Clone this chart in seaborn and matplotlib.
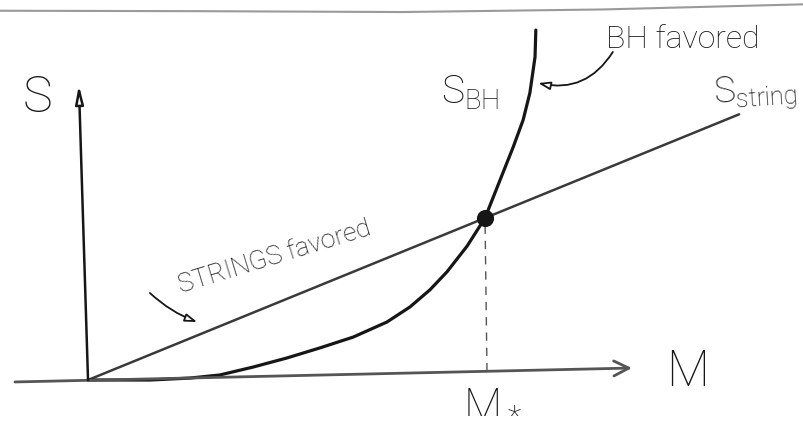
import numpy as np
import pandas as pd
import matplotlib
matplotlib.use("Agg")
import matplotlib.pyplot as plt
import seaborn as sns

# Entropy vs mass: black hole entropy S_BH against string entropy S_string
# (M in units of the crossing mass M_*, S in units of the entropy at M_*)
bh_mass = [0.0, 0.156, 0.257, 0.332, 0.416, 0.501, 0.584, 0.668, 0.753, 0.811,
           0.861, 0.904, 0.955, 1.0, 1.038, 1.071, 1.096, 1.113, 1.126, 1.128]
bh_entropy = [0.0, 0.0, 0.012, 0.031, 0.080, 0.136, 0.198, 0.265, 0.358, 0.451,
              0.556, 0.667, 0.827, 1.0, 1.235, 1.438, 1.605, 1.772, 1.994, 2.160]

string_mass = [0.0, 1.0, 1.64]
string_entropy = [0.0, 1.0, 1.64]

m_star = 1.0
s_star = 1.0

axis_label_s = "S"
axis_label_m = "M"
label_mstar = r"$\mathregular{M_*}$"
label_sbh = r"$\mathregular{S_{BH}}$"
label_sstring = r"$\mathregular{S_{string}}$"
note_bh = "BH favored"
note_strings = "STRINGS favored"

sns.set_theme(style="white")
plt.rcParams["font.family"] = ["Roboto", "DejaVu Sans"]
plt.rcParams["font.weight"] = "light"
plt.rcParams["mathtext.fontset"] = "custom"
plt.rcParams["mathtext.rm"] = "Roboto:light"

fig = plt.figure(figsize=(8.04, 4.30), dpi=100)
ax = fig.add_axes([0, 0, 1, 1])
ax.set_xlim(-0.2217, 1.8035)
ax.set_ylim(-0.3086, 2.3457)
ax.axis("off")

ink = "#161616"

# axes drawn as hand-style arrows
ax.annotate("", xy=(1.37, 0.074), xytext=(-0.184, -0.012),
            arrowprops=dict(arrowstyle="->,head_length=0.9,head_width=0.45",
                            color="#555555", lw=2.0, shrinkA=0, shrinkB=0))
ax.annotate("", xy=(-0.023, 1.82), xytext=(0.0, 0.0),
            arrowprops=dict(arrowstyle="-|>,head_length=0.9,head_width=0.2",
                            fc="white", ec=ink, lw=1.8, shrinkA=0, shrinkB=0))

df_bh = pd.DataFrame({"M": bh_mass, "S": bh_entropy})
df_str = pd.DataFrame({"M": string_mass, "S": string_entropy})

sns.lineplot(data=df_str, x="M", y="S", sort=False, estimator=None,
             color="#3a3a3a", lw=1.8, ax=ax)
sns.lineplot(data=df_bh, x="M", y="S", sort=False, estimator=None,
             color=ink, lw=2.3, ax=ax)

# dashed drop line from the crossing to the M axis
axis_y_at_mstar = -0.012 + (0.074 + 0.012) * (m_star + 0.184) / (1.37 + 0.184)
ax.plot([m_star + 0.005, m_star], [axis_y_at_mstar, s_star],
        ls=(0, (6, 5)), color="#555555", lw=1.0)

sns.scatterplot(x=[m_star], y=[s_star], s=130, color=ink, ax=ax, zorder=5,
                edgecolor=ink)

# labels
ax.text(-0.128, 1.741, axis_label_s, fontsize=36, ha="center", va="center", color=ink)
ax.text(1.509, 0.049, axis_label_m, fontsize=36, ha="center", va="center", color=ink)
ax.text(1.02, -0.13, label_mstar, fontsize=32, ha="center", va="center", color=ink)
ax.text(0.962, 1.77, label_sbh, fontsize=28, ha="center", va="center", color=ink)
ax.text(1.68, 1.77, label_sstring, fontsize=26, ha="center", va="center", color=ink,
        rotation=4)
ax.text(1.499, 2.099, note_bh, fontsize=23, ha="center", va="center", color=ink)
ax.text(0.471, 0.759, note_strings, fontsize=19, ha="center", va="center", color=ink,
        rotation=17)

# pointers to the regions
ax.annotate("", xy=(1.134, 1.833), xytext=(1.322, 2.025),
            arrowprops=dict(arrowstyle="-|>,head_length=0.6,head_width=0.2",
                            fc="white", ec=ink, lw=1.3, shrinkA=0, shrinkB=0,
                            connectionstyle="arc3,rad=-0.35"))
ax.annotate("", xy=(0.275, 0.358), xytext=(0.156, 0.537),
            arrowprops=dict(arrowstyle="-|>,head_length=0.6,head_width=0.2",
                            fc="white", ec=ink, lw=1.3, shrinkA=0, shrinkB=0,
                            connectionstyle="arc3,rad=0.1"))

# page edge at the top
ax.plot([0, 0.25, 0.5, 0.75, 1.0], [0.975, 0.974, 0.972, 0.978, 0.99],
        transform=ax.transAxes, color="#9a9a9a", lw=1.5)

fig.savefig("out.png", dpi=100)
